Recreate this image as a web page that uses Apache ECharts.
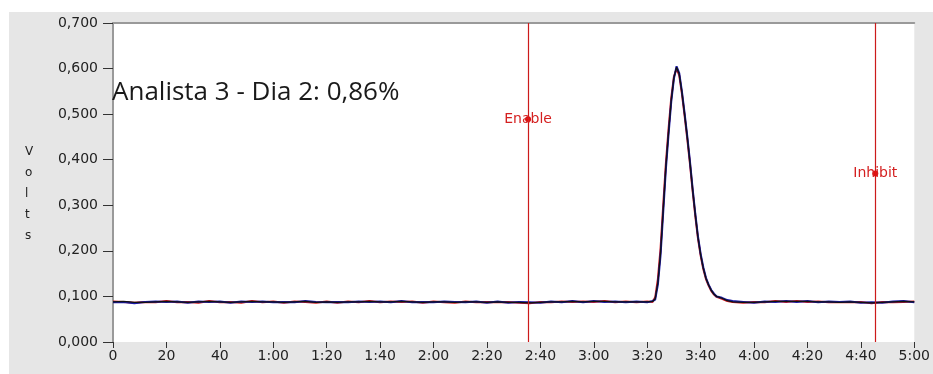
<!DOCTYPE html>
<html>
<head>
<meta charset="utf-8">
<script src="https://cdn.jsdelivr.net/npm/echarts@6/dist/echarts.min.js"></script>
<style>
html,body{margin:0;padding:0;background:#fff;}
#chart{width:933px;height:374px;}
</style>
</head>
<body>
<div id="chart"></div>
<script>
// ---- data ----
var titleText = 'Analista 3 - Dia 2: 0,86%';
var yAxisName = 'Volts';
var xTicks = [0, 20, 40, 60, 80, 100, 120, 140, 160, 180, 200, 220, 240, 260, 280, 300];
var yTicks = [0, 0.1, 0.2, 0.3, 0.4, 0.5, 0.6, 0.7];

var times = [0,4,8,12,16,20,24,28,32,36,40,44,48,52,56,60,64,68,72,76,80,84,88,92,96,100,104,108,112,116,120,124,128,132,136,140,144,148,152,156,160,164,168,172,176,180,184,188,192,196,200,202,203,204,205,206,207,208,209,210,211,212,213,214,215,216,217,218,219,220,221,222,223,224,225,226,228,230,232,236,240,244,248,252,256,260,264,268,272,276,280,284,288,292,296,300];

var blackValues = [0.088,0.089,0.087,0.087,0.088,0.089,0.088,0.087,0.088,0.089,0.088,0.087,0.088,0.089,0.088,0.088,0.087,0.088,0.089,0.087,0.088,0.087,0.088,0.088,0.089,0.088,0.088,0.089,0.088,0.087,0.088,0.088,0.087,0.088,0.088,0.087,0.088,0.087,0.087,0.086,0.087,0.088,0.088,0.089,0.088,0.089,0.089,0.088,0.088,0.088,0.088,0.089,0.095,0.130,0.195,0.290,0.385,0.460,0.530,0.580,0.603,0.588,0.548,0.500,0.450,0.395,0.335,0.280,0.230,0.192,0.162,0.140,0.125,0.113,0.105,0.100,0.096,0.091,0.088,0.087,0.087,0.088,0.089,0.089,0.089,0.089,0.088,0.088,0.087,0.088,0.087,0.086,0.087,0.088,0.089,0.088];

var redValues = [0.089,0.088,0.086,0.088,0.087,0.090,0.087,0.088,0.086,0.090,0.087,0.088,0.086,0.090,0.087,0.089,0.086,0.089,0.088,0.086,0.089,0.086,0.089,0.087,0.090,0.087,0.089,0.088,0.089,0.086,0.089,0.087,0.086,0.089,0.087,0.088,0.087,0.088,0.086,0.085,0.088,0.087,0.089,0.088,0.089,0.088,0.090,0.087,0.089,0.087,0.089,0.088,0.098,0.138,0.205,0.300,0.392,0.468,0.535,0.582,0.600,0.585,0.545,0.497,0.446,0.392,0.332,0.277,0.228,0.190,0.160,0.138,0.124,0.112,0.104,0.099,0.095,0.090,0.088,0.086,0.088,0.087,0.090,0.088,0.090,0.088,0.089,0.087,0.088,0.087,0.088,0.085,0.088,0.087,0.088,0.089];

var blueValues = [0.087,0.088,0.085,0.088,0.089,0.088,0.089,0.086,0.089,0.088,0.089,0.086,0.089,0.088,0.089,0.087,0.088,0.087,0.090,0.088,0.087,0.088,0.087,0.089,0.088,0.089,0.087,0.090,0.087,0.088,0.087,0.089,0.088,0.087,0.089,0.086,0.089,0.086,0.088,0.087,0.086,0.089,0.087,0.090,0.087,0.090,0.088,0.089,0.087,0.089,0.087,0.090,0.093,0.126,0.190,0.285,0.380,0.456,0.527,0.578,0.605,0.590,0.550,0.502,0.452,0.397,0.337,0.282,0.232,0.194,0.164,0.141,0.126,0.114,0.106,0.100,0.097,0.092,0.090,0.088,0.086,0.089,0.088,0.090,0.088,0.090,0.087,0.089,0.088,0.089,0.086,0.087,0.086,0.089,0.090,0.087];

var cursorNames = ['Enable', 'Inhibit'];
var cursorTimes = [155.4, 285.4];
var cursorLevels = [0.489, 0.370];

// ---- helpers ----
function pairs(vals) {
  return times.map(function (t, i) { return [t, vals[i]]; });
}
function fmtTime(v) {
  if (v < 60) return String(v);
  var m = Math.floor(v / 60), s = v % 60;
  return m + ':' + (s < 10 ? '0' : '') + s;
}
function fmtVolt(v) {
  return v.toFixed(3).replace('.', ',');
}

var chart = echarts.init(document.getElementById('chart'), null, {renderer: 'canvas'});

var labelFont = {fontFamily: 'DejaVu Sans', fontSize: 14, color: '#222'};

var option = {
  animation: false,
  backgroundColor: '#ffffff',
  graphic: [
    {type: 'rect', left: 9, top: 12, z: -10, shape: {width: 924, height: 362}, style: {fill: '#e6e6e6'}},
    {type: 'text', left: 25, top: 141, z: 5,
      style: {text: yAxisName.split('').join('\n'), font: '12px "DejaVu Sans"', fill: '#222', lineHeight: 21, align: 'center'}},
    {type: 'text', left: 112, top: 80, z: 5,
      style: {text: titleText, font: '26px "Open Sans"', fill: '#1a1a1a'}}
  ],
  grid: {left: 113, right: 17, top: 23, bottom: 32, show: true, backgroundColor: '#ffffff', borderWidth: 0},
  xAxis: [{
    type: 'value', min: 0, max: 300, interval: 20,
    axisLine: {show: false},
    axisTick: {show: true, length: 6, inside: false, lineStyle: {color: '#333', width: 1}},
    axisLabel: {formatter: fmtTime, margin: 7, fontFamily: labelFont.fontFamily, fontSize: labelFont.fontSize, color: labelFont.color,
      customValues: xTicks},
    splitLine: {show: false}
  }, {
    type: 'value', min: 0, max: 300, position: 'top',
    axisLine: {show: true, lineStyle: {color: '#9a9a9a', width: 2}},
    axisTick: {show: false}, axisLabel: {show: false}, splitLine: {show: false}
  }],
  yAxis: {
    type: 'value', min: 0, max: 0.7, interval: 0.1,
    axisLine: {show: true, lineStyle: {color: '#9a9a9a', width: 2}},
    axisTick: {show: true, length: 10, lineStyle: {color: '#333', width: 1}},
    axisLabel: {formatter: fmtVolt, margin: 15, fontFamily: labelFont.fontFamily, fontSize: labelFont.fontSize, color: labelFont.color},
    splitLine: {show: false}
  },
  series: [
    {type: 'line', name: 'red', data: pairs(redValues), showSymbol: false, lineStyle: {color: '#d01818', width: 2}, z: 2},
    {type: 'line', name: 'blue', data: pairs(blueValues), showSymbol: false, lineStyle: {color: '#1a1aa8', width: 2}, z: 3},
    {type: 'line', name: 'black', data: pairs(blackValues), showSymbol: false, lineStyle: {color: '#111', width: 1.3}, z: 4,
      markLine: {
        silent: true, symbol: ['none', 'none'], label: {show: false},
        lineStyle: {color: '#cc1a1a', width: 1.2, type: 'solid'},
        data: cursorTimes.map(function (t) { return {xAxis: t}; })
      },
      markPoint: {
        silent: true, symbol: 'circle', symbolSize: 6,
        itemStyle: {color: '#e01010'},
        label: {show: true, position: 'inside', formatter: '{b}', color: '#d42020', fontFamily: 'DejaVu Sans', fontSize: 14},
        data: cursorNames.map(function (n, i) { return {name: n, coord: [cursorTimes[i], cursorLevels[i]]}; })
      }
    }
  ]
};
chart.setOption(option);
</script>
</body>
</html>
